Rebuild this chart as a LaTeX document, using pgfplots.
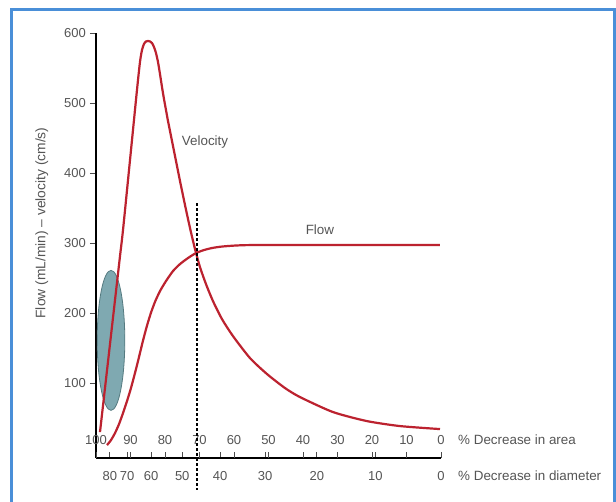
\documentclass[border=0pt]{standalone}
\usepackage{pgfplots}
\pgfplotsset{compat=1.18}
\usepackage{fontspec}
\setmainfont{Liberation Sans}

\definecolor{curve}{HTML}{BC222F}
\definecolor{txt}{HTML}{555555}
\definecolor{framec}{HTML}{4A8FD8}
\definecolor{blob}{HTML}{7FA9B1}
\definecolor{blobedge}{HTML}{557A80}

\begin{document}
\begin{tikzpicture}
\useasboundingbox (-96pt,-43pt) rectangle (520pt,458pt);
\fill[white] (-96pt,-43pt) rectangle (520pt,458pt);
\begin{axis}[
    at={(0pt,0pt)}, anchor=south west,
    scale only axis, width=345pt, height=425pt,
    xmin=0, xmax=100, x dir=reverse,
    ymin=-7, ymax=600,
    clip=false,
    axis x line=bottom, axis y line=left,
    axis line style={-, line width=2pt, black},
    /pgf/number format/assume math mode=true,
    tick label style={txt, font=\fontsize{13}{15}\selectfont},
    major tick length=6pt,
    ytick align=outside, xtick align=inside,
    ytick={100,200,...,600},
    ytick style={black!70, line width=0.8pt},
    yticklabel style={inner sep=0pt},
    yticklabel shift=4pt,
    xtick={96,91,84,75,64,51,36,19,0},
    xticklabels={80,70,60,50,40,30,20,10,0},
    xtick style={black!70, line width=0.8pt},
    xticklabel style={anchor=north, inner sep=0pt},
    xticklabel shift=13pt,
    extra x ticks={100,90,80,70,60,50,40,30,20,10,0},
    extra x tick labels={100,90,80,70,60,50,40,30,20,10,0},
    extra x tick style={xticklabel shift=-13pt, xticklabel style={anchor=south}},
    ylabel={Flow (mL/min) -- velocity (cm/s)},
    every axis y label/.style={at={(axis description cs:-0.157,0.553)},
        rotate=90, anchor=center, txt, font=\fontsize{13.8}{15}\selectfont},
]
% stenosis zone
\draw[blobedge, fill=blob, line width=0.8pt] (axis cs:95.65,161) ellipse [x radius=13.8pt, y radius=70pt];

% velocity
\addplot[curve, line width=2.2pt, smooth, tension=0.4] coordinates {
    (98.84,30.0) (97.68,80.3) (96.52,130.6) (95.36,180.9) (94.20,231.1)
    (93.04,281.4) (92.17,318.6) (90.14,418.6) (88.12,518.6) (87.25,558.6)
    (86.67,575.7) (86.09,584.3) (85.51,587.9) (84.93,588.6) (84.35,587.9)
    (83.77,585.7) (83.19,580.0) (82.61,571.4) (82.03,558.6) (81.45,541.4)
    (80.87,522.9) (80.29,505.7) (79.71,490.0) (79.13,474.3) (77.97,445.7)
    (76.81,417.1) (75.65,388.6) (74.20,354.3) (72.75,321.4) (71.30,291.4)
    (69.86,265.7) (68.12,241.4) (66.09,217.1) (63.48,191.4) (60.29,167.1)
    (55.36,135.7) (50.43,112.9) (45.22,92.9) (40.87,80.0) (31.30,58.6)
    (21.45,45.7) (11.88,38.6) (0.29,34.3)
};

% flow
\addplot[curve, line width=2.2pt, smooth, tension=0.4] coordinates {
    (96.81,11.4) (95.65,18.6) (94.49,28.6) (93.33,41.4) (92.17,57.1)
    (91.01,74.3) (89.86,92.9) (88.70,114.3) (87.54,137.1) (86.38,160.5)
    (85.22,182.0) (84.06,200.5) (82.90,216.0) (81.45,231.4) (79.71,245.7)
    (77.68,260.0) (75.65,270.0) (73.33,278.6) (71.01,285.7) (68.70,290.0)
    (66.38,292.9) (63.48,295.0) (59.71,296.4) (55.36,297.1) (40.87,297.1)
    (0.29,297.1)
};

% 70 percent area line
\draw[black, line width=1.8pt, dash pattern=on 3pt off 2pt] (axis cs:70.7,357) -- (axis cs:70.7,-53);

\node[txt, font=\fontsize{13.4}{15}\selectfont] at (axis cs:68.4,444) {Velocity};
\node[txt, font=\fontsize{13.4}{15}\selectfont] at (axis cs:35.1,319) {Flow};
\end{axis}

\node[txt, anchor=west, inner sep=0pt, font=\fontsize{13.4}{15}\selectfont] at (362pt,18pt) {\% Decrease in area};
\node[txt, anchor=west, inner sep=0pt, font=\fontsize{13.4}{15}\selectfont] at (362pt,-18pt) {\% Decrease in diameter};

\draw[framec, line width=3pt] (-84pt,-60pt) -- (-84pt,448pt) -- (518pt,448pt) -- (518pt,-60pt);
\end{tikzpicture}
\end{document}
